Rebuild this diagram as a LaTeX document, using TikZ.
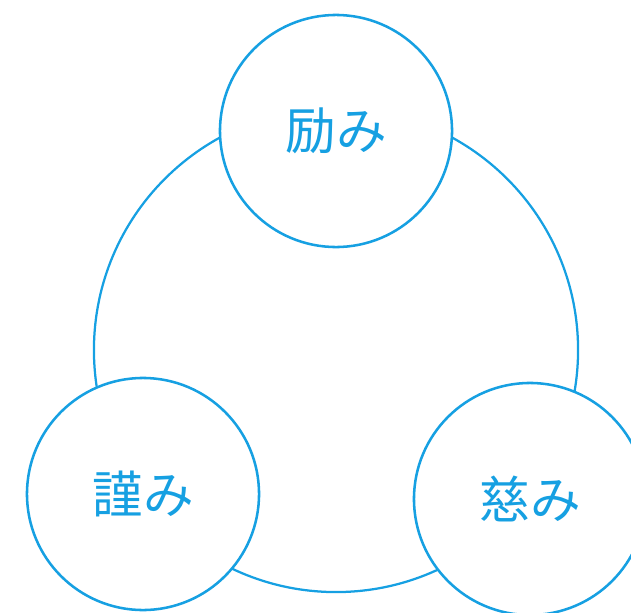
\documentclass[tikz,border=0pt]{standalone}
\usepackage{fontspec}
\newfontfamily\jpfont{Noto Sans CJK JP}
\definecolor{skyblue}{RGB}{22,160,226}
\begin{document}
\begin{tikzpicture}[x=0.025cm, y=-0.025cm]
    \tikzstyle{ring}=[draw=skyblue, line width=1.8pt, circle, fill=white, inner sep=0pt]
    \tikzstyle{word}=[text=skyblue, font=\jpfont\fontsize{36}{36}\selectfont]

    \useasboundingbox (0,0) rectangle (631,612);
    \clip (0,0) rectangle (631,612);

    \node[ring, fill=none, line width=1.6pt, minimum size=12.1cm] (kokoro) at (336,350) {};

    \foreach \name/\x/\y/\txt in {hagemi/336/131/励み, tsutsushimi/143/494/謹み, itsukushimi/530/499/慈み} {
        \node[ring, word, minimum size=5.8cm] (\name) at (\x,\y) {\txt};
    }
\end{tikzpicture}
\end{document}
